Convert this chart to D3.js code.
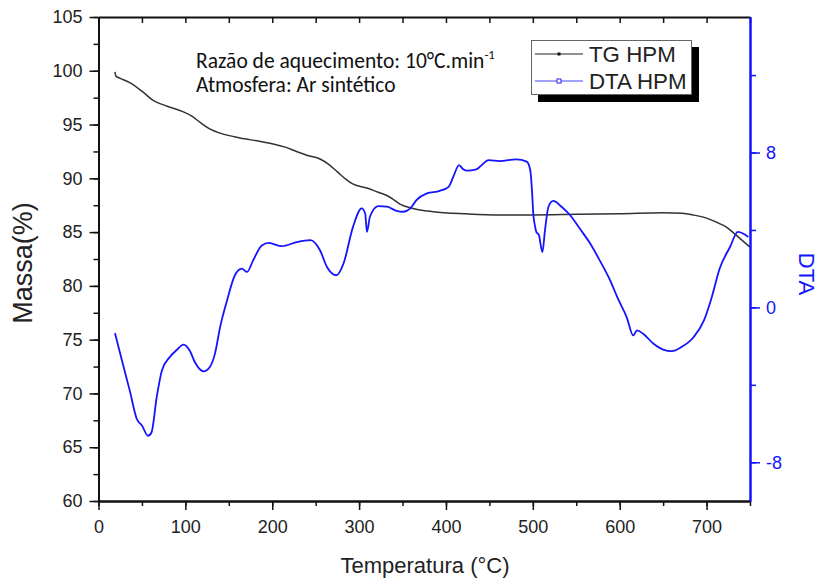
<!DOCTYPE html>
<html>
<head>
<meta charset="utf-8">
<script src="https://cdn.jsdelivr.net/npm/d3@7"></script>
<style>
  body { margin: 0; background: #fff; }
  svg text { font-family: "Liberation Sans", Arial, sans-serif; }
</style>
</head>
<body>
<div id="chart"></div>
<script>
// TG curve: temperature (°C), mass (%)
const tgTemp = [19, 20, 25, 36, 50, 62, 79, 97, 107, 117, 128, 140, 163, 185, 201, 215, 228, 242, 255, 265,
  275, 285, 292, 309, 322, 332, 340, 347, 362, 385, 424, 462, 500, 550, 600, 650, 672, 684, 700, 712, 722, 730, 740, 750];
const tgMass = [99.9, 99.5, 99.3, 98.9, 98.1, 97.3, 96.7, 96.2, 95.8, 95.2, 94.6, 94.2, 93.75, 93.45, 93.2, 92.9, 92.5, 92.1, 91.8, 91.3,
  90.6, 89.9, 89.5, 89.1, 88.7, 88.4, 88.0, 87.6, 87.2, 86.9, 86.7, 86.6, 86.6, 86.65, 86.7, 86.8, 86.75, 86.6, 86.3, 85.9, 85.5, 85.0, 84.3, 83.6];

// DTA curve: temperature (°C), signal
const dtaTemp = [19, 27, 36, 44, 50, 57, 61, 67, 73, 82, 90, 98, 105, 111, 121, 128, 134, 140, 148, 157,
  165, 171, 178, 188, 196, 211, 228, 244, 255, 263, 274, 282, 293, 303, 307, 309, 312.5, 322, 332, 343,
  351, 359, 366, 378, 393, 403, 408.5, 415, 420, 424, 435, 441, 449, 462, 481, 493, 497, 499, 500.5, 502.5,
  504, 507, 511, 514, 518, 523.5, 533, 543, 554, 566, 577, 589, 598, 608, 615.6, 620, 627, 639, 650, 660,
  671, 685, 697, 706, 715, 727, 736, 742, 748];
const dtaVal = [-1.33, -2.74, -4.3, -5.75, -6.1, -6.63, -6.46, -4.64, -3.26, -2.57, -2.2, -1.92, -2.23, -2.83, -3.3, -3.09, -2.4, -1.02, 0.36, 1.66,
  2.0, 1.83, 2.43, 3.2, 3.33, 3.16, 3.37, 3.47, 2.95, 2.09, 1.66, 2.26, 4.16, 5.11, 4.85, 3.9, 4.68, 5.23, 5.2, 4.99,
  4.94, 5.11, 5.54, 5.89, 6.02, 6.23, 6.75, 7.35, 7.13, 7.06, 7.13, 7.35, 7.61, 7.56, 7.65, 7.53, 7.1, 6.06, 4.85, 4.2,
  3.9, 3.73, 2.86, 3.99, 5.2, 5.5, 5.2, 4.76, 4.07, 3.3, 2.43, 1.4, 0.45, -0.5, -1.45, -1.19, -1.36, -1.88, -2.18, -2.26,
  -2.05, -1.54, -0.67, 0.53, 2.0, 3.12, 3.9, 3.82, 3.64];

const xTicks = [0, 100, 200, 300, 400, 500, 600, 700];
const massTicks = [60, 65, 70, 75, 80, 85, 90, 95, 100, 105];
const dtaTicks = [-8, 0, 8];

const W = 817, H = 579;
const pL = 98.5, pR = 750, pT = 17, pB = 501;
const FONT = "'Liberation Sans', Arial, sans-serif";

const svg = d3.select("#chart").append("svg")
  .attr("width", W).attr("height", H);

const x = d3.scaleLinear().domain([0, 750]).range([pL, pR]);
const yM = d3.scaleLinear().domain([60, 105]).range([pB, pT]);
const yD = d3.scaleLinear().domain([-10, 15]).range([pB, pT]);

const tgData = tgTemp.map((t, i) => [t, tgMass[i]]);
const dtaData = dtaTemp.map((t, i) => [t, dtaVal[i]]);

// curves
svg.append("path")
  .attr("d", d3.line().x(d => x(d[0])).y(d => yM(d[1])).curve(d3.curveMonotoneX)(tgData))
  .attr("fill", "none").attr("stroke", "#333").attr("stroke-width", 1.5);

svg.append("path")
  .attr("d", d3.line().x(d => x(d[0])).y(d => yD(d[1])).curve(d3.curveMonotoneX)(dtaData))
  .attr("fill", "none").attr("stroke", "#1414ff").attr("stroke-width", 1.8);

// axes
function styleAxis(g, color, txt) {
  g.attr("font-family", FONT);
  g.select(".domain").attr("stroke", color).attr("stroke-width", 2);
  g.selectAll(".tick line").attr("stroke", color).attr("stroke-width", 1.5);
  g.selectAll(".tick text").attr("fill", txt || color).style("font-size", "18px");
}

// minor ticks
const xMinor = d3.range(0, 751, 50);
const mMinor = d3.range(60, 105.1, 2.5);
const dMinor = d3.range(-8, 15, 4);
const fmt = d => String(d);   // plain hyphen for negatives

svg.append("g").attr("transform", `translate(0,${pB})`)
  .call(d3.axisBottom(x).tickValues(xMinor).tickSize(5).tickFormat("").tickSizeOuter(0))
  .call(g => styleAxis(g, "#111"));
svg.append("g").attr("transform", `translate(0,${pB})`)
  .call(d3.axisBottom(x).tickValues(xTicks).tickSize(9).tickPadding(10).tickFormat(fmt).tickSizeOuter(0))
  .call(g => styleAxis(g, "#111", "#222"));

svg.append("g").attr("transform", `translate(0,${pT})`)
  .call(d3.axisTop(x).tickValues(xMinor).tickSize(-6).tickFormat("").tickSizeOuter(0))
  .call(g => styleAxis(g, "#111"));

svg.append("g").attr("transform", `translate(${pL},0)`)
  .call(d3.axisLeft(yM).tickValues(mMinor).tickSize(5).tickFormat("").tickSizeOuter(0))
  .call(g => styleAxis(g, "#111"));
svg.append("g").attr("transform", `translate(${pL},0)`)
  .call(d3.axisLeft(yM).tickValues(massTicks).tickSize(9).tickPadding(7).tickFormat(fmt).tickSizeOuter(0))
  .call(g => styleAxis(g, "#111", "#222"));

svg.append("g").attr("transform", `translate(${pR},0)`)
  .call(d3.axisRight(yD).tickValues(dMinor).tickSize(6).tickFormat("").tickSizeOuter(0))
  .call(g => styleAxis(g, "#1414ff"));
svg.append("g").attr("transform", `translate(${pR},0)`)
  .call(d3.axisRight(yD).tickValues(dtaTicks).tickSize(10).tickPadding(6).tickFormat(fmt).tickSizeOuter(0))
  .call(g => styleAxis(g, "#1414ff"));

// axis titles
svg.append("text").attr("x", 425).attr("y", 573)
  .attr("text-anchor", "middle").attr("fill", "#222").style("font-size", "22px")
  .text("Temperatura (°C)");
svg.append("text").attr("transform", `translate(32,263) rotate(-90)`)
  .attr("text-anchor", "middle").attr("fill", "#222").style("font-size", "27px")
  .text("Massa(%)");
svg.append("text").attr("transform", `translate(798.5,274) rotate(90)`)
  .attr("text-anchor", "middle").attr("fill", "#1414ff").style("font-size", "22px")
  .text("DTA");

// annotation
const note = svg.append("g").attr("fill", "#111");
const l1 = note.append("text").attr("x", 196).attr("y", 68)
  .style("font-family", "Carlito, Lato, sans-serif").style("font-size", "21.5px");
l1.append("tspan").text("Razão de aquecimento: 10°C.min");
l1.append("tspan").attr("dy", -9).style("font-size", "13px").text("-1");
note.append("text").attr("x", 196).attr("y", 92)
  .style("font-family", "Carlito, Lato, sans-serif").style("font-size", "21.5px")
  .text("Atmosfera: Ar sintético");

// legend
const lg = svg.append("g");
lg.append("rect").attr("x", 538).attr("y", 47).attr("width", 161).attr("height", 55).attr("fill", "#000");
lg.append("rect").attr("x", 531.5).attr("y", 40.5).attr("width", 160).attr("height", 54)
  .attr("fill", "#fff").attr("stroke", "#666").attr("stroke-width", 1);
lg.append("line").attr("x1", 535).attr("x2", 583).attr("y1", 54).attr("y2", 54)
  .attr("stroke", "#222").attr("stroke-width", 1.2);
lg.append("rect").attr("x", 557.5).attr("y", 52.5).attr("width", 3).attr("height", 3).attr("fill", "#111");
lg.append("line").attr("x1", 535).attr("x2", 583).attr("y1", 81).attr("y2", 81)
  .attr("stroke", "#4444ff").attr("stroke-width", 1.2);
lg.append("rect").attr("x", 557).attr("y", 79).attr("width", 4).attr("height", 4)
  .attr("fill", "#fff").attr("stroke", "#2222ff").attr("stroke-width", 1);
lg.append("text").attr("x", 589).attr("y", 61.5).attr("fill", "#222").style("font-size", "22.3px").text("TG HPM");
lg.append("text").attr("x", 589).attr("y", 89).attr("fill", "#222").style("font-size", "22.3px").text("DTA HPM");
</script>
</body>
</html>
